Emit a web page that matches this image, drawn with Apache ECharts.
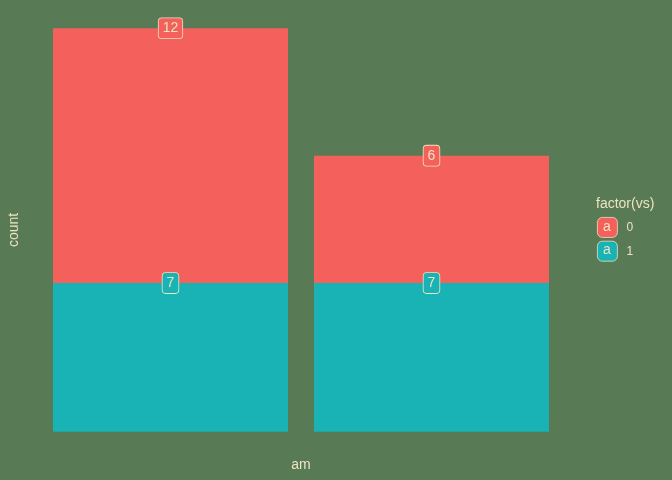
<!DOCTYPE html>
<html><head><meta charset="utf-8">
<script src="https://cdn.jsdelivr.net/npm/echarts@6/dist/echarts.min.js"></script>
<style>html,body{margin:0;padding:0;background:#587A55;}#c{width:672px;height:480px;}</style>
</head><body><div id="c"></div>
<script>
const amCategories = ['0', '1'];
const vsLevels = ['0', '1'];
const countVs0 = [12, 6];
const countVs1 = [7, 7];
const colors = ['#F4605B', '#19B2B5'];
const textColor = '#EDE4C0';
const font = 'Liberation Sans, Arial, sans-serif';

const chart = echarts.init(document.getElementById('c'), null, {renderer: 'canvas'});
function labelCfg(bg) {
  return {
    show: true,
    position: ['50%', 0],
    align: 'center',
    verticalAlign: 'middle',
    color: textColor,
    fontFamily: font,
    fontSize: 14,
    backgroundColor: bg,
    borderColor: textColor,
    borderWidth: 0.8,
    borderRadius: 3,
    padding: [3, 4, 2, 4],
    lineHeight: 15
  };
}
const option = {
  backgroundColor: '#587A55',
  animation: false,
  grid: {left: 40, right: 110, top: 8, bottom: 28, containLabel: false, outerBoundsMode: 'none'},
  xAxis: {
    type: 'category', data: amCategories, boundaryGap: true,
    axisLine: {show: false}, axisTick: {show: false}, axisLabel: {show: false}, splitLine: {show: false},
    name: 'am', nameLocation: 'middle', nameGap: 6,
    nameTextStyle: {color: textColor, fontSize: 14, fontFamily: font, verticalAlign: 'top'}
  },
  yAxis: {
    type: 'value', min: -0.95, max: 19.95,
    axisLine: {show: false}, axisTick: {show: false}, axisLabel: {show: false}, splitLine: {show: false},
    name: 'count', nameLocation: 'middle', nameGap: 19, nameRotate: 90,
    nameTextStyle: {color: textColor, fontSize: 14, fontFamily: font}
  },
  legend: {
    data: vsLevels,
    orient: 'vertical',
    left: 597, top: 217, padding: 0,
    itemWidth: 20, itemHeight: 20, itemGap: 3,
    icon: 'roundRect',
    itemStyle: {borderColor: textColor, borderWidth: 0.8},
    textStyle: {color: textColor, fontSize: 12, fontFamily: font, padding: [3, 0, 0, 4]},
    selectedMode: false
  },
  graphic: [
    {type: 'text', left: 596, top: 197, style: {text: 'factor(vs)', fill: textColor, fontSize: 14, fontFamily: font}},
    {type: 'text', x: 607, y: 227, z: 100, style: {text: 'a', fill: textColor, fontSize: 14, align: 'center', verticalAlign: 'middle', fontFamily: font}},
    {type: 'text', x: 607, y: 250, z: 100, style: {text: 'a', fill: textColor, fontSize: 14, align: 'center', verticalAlign: 'middle', fontFamily: font}}
  ],
  series: [
    {
      name: vsLevels[1], type: 'bar', stack: 's', barWidth: 235,
      data: countVs1,
      itemStyle: {color: colors[1]},
      label: labelCfg(colors[1])
    },
    {
      name: vsLevels[0], type: 'bar', stack: 's', barWidth: 235,
      data: countVs0,
      itemStyle: {color: colors[0]},
      label: labelCfg(colors[0])
    }
  ]
};
chart.setOption(option);
</script>
</body></html>
